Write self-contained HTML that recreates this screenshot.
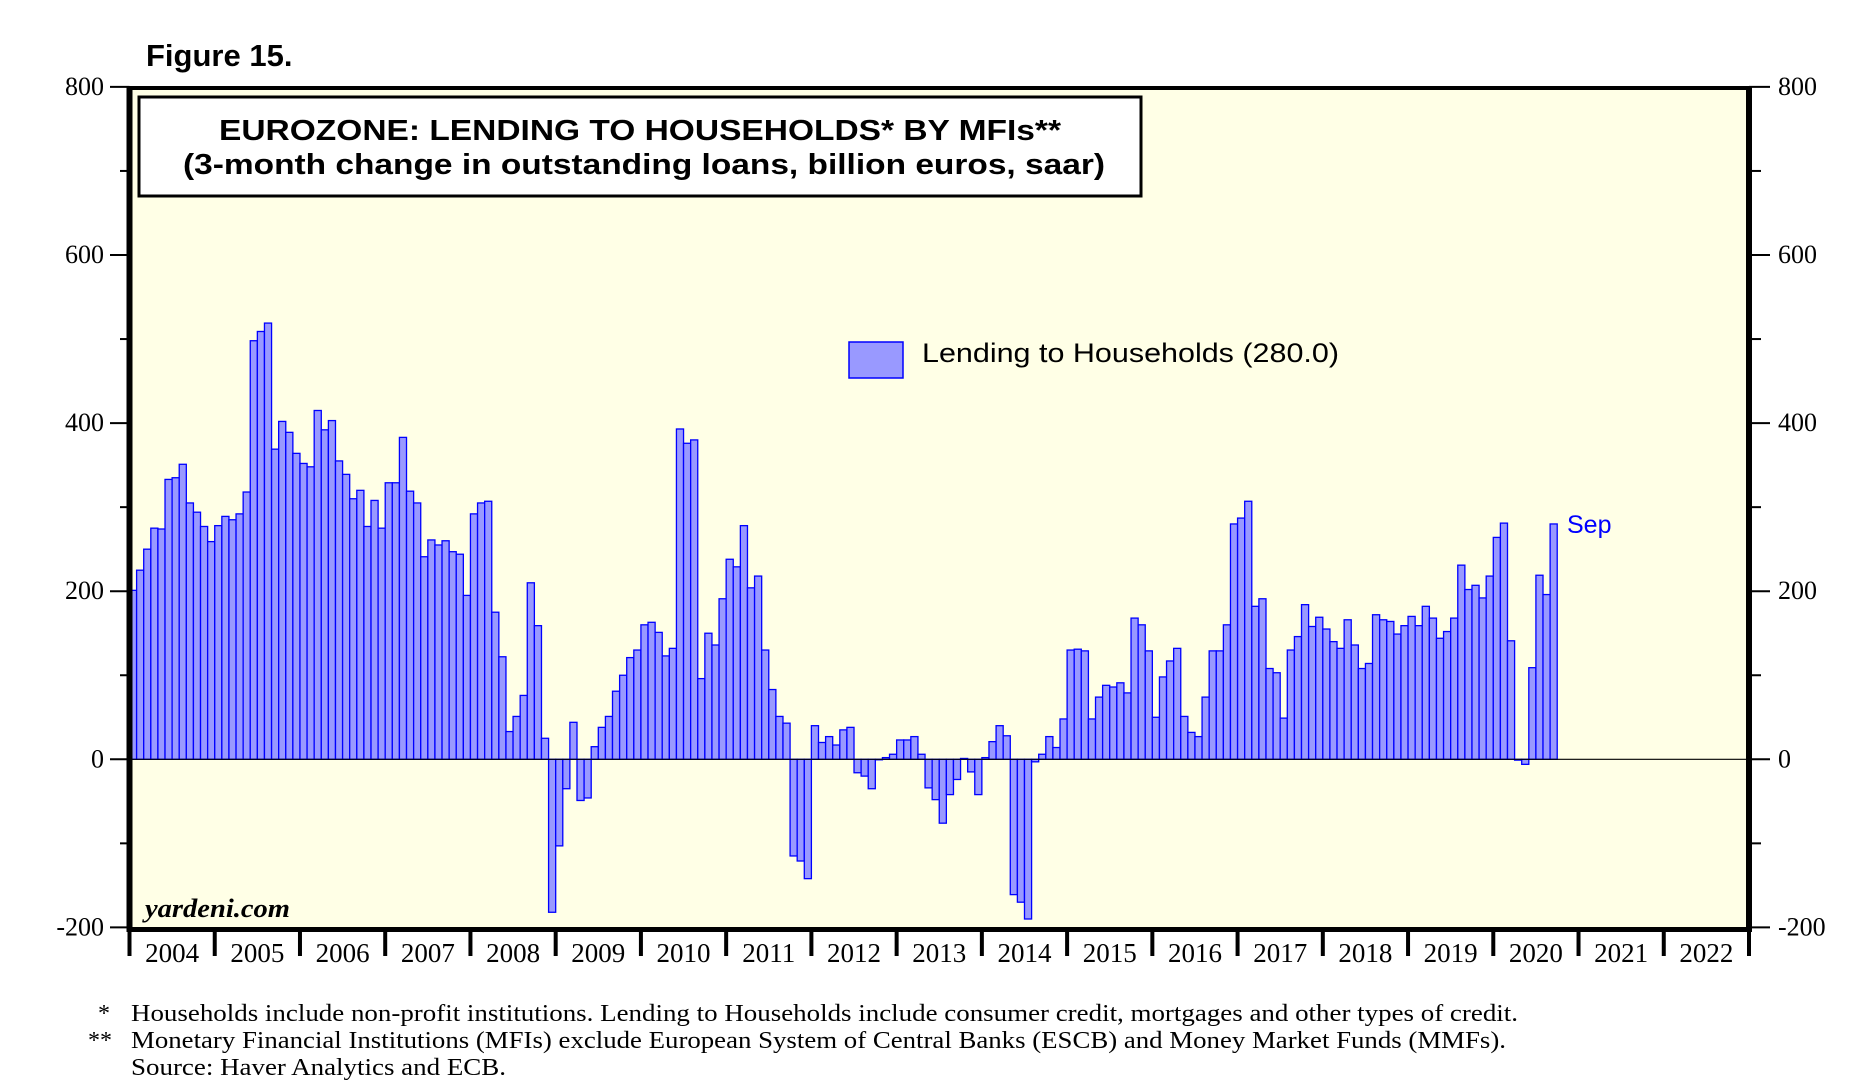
<!DOCTYPE html>
<html><head><meta charset="utf-8"><style>
html,body{margin:0;padding:0;background:#fff;}
svg{display:block;}
</style></head><body>
<svg id="chart" width="1861" height="1088" viewBox="0 0 1861 1088" xmlns="http://www.w3.org/2000/svg">
<text x="146" y="66" font-family="Liberation Sans, sans-serif" font-weight="bold" font-size="31">Figure 15.</text>
<rect x="129.5" y="88" width="1619.5" height="842" fill="#FFFFE6"/>
<g id="bars"></g>
<g id="axes"></g>
<rect x="139" y="97" width="1002" height="99" fill="#fff" stroke="#000" stroke-width="3"/>
<text x="640" y="140" text-anchor="middle" font-family="Liberation Sans Narrow, Liberation Sans, sans-serif" font-weight="bold" font-size="29" textLength="842" lengthAdjust="spacingAndGlyphs">EUROZONE: LENDING TO HOUSEHOLDS* BY MFIs**</text>
<text x="644" y="174" text-anchor="middle" font-family="Liberation Sans Narrow, Liberation Sans, sans-serif" font-weight="bold" font-size="29" textLength="922" lengthAdjust="spacingAndGlyphs">(3-month change in outstanding loans, billion euros, saar)</text>
<rect x="849" y="342" width="54" height="36" fill="#9999FF" stroke="#0000FF" stroke-width="1.5"/>
<text x="922" y="362" font-family="Liberation Sans, sans-serif" font-size="27" textLength="417" lengthAdjust="spacingAndGlyphs">Lending to Households (280.0)</text>
<text x="1567" y="533" fill="#0000FF" font-family="Liberation Sans, sans-serif" font-size="25">Sep</text>
<text x="145" y="917" font-family="Liberation Serif, serif" font-style="italic" font-weight="bold" font-size="26" textLength="145" lengthAdjust="spacingAndGlyphs">yardeni.com</text>
<g font-family="Liberation Serif, serif" font-size="24">
<text x="110" y="1021" text-anchor="end">*</text>
<text x="131" y="1021" textLength="1387" lengthAdjust="spacingAndGlyphs">Households include non-profit institutions.  Lending to Households include consumer credit, mortgages and other types of credit.</text>
<text x="112" y="1048" text-anchor="end">**</text>
<text x="131" y="1048" textLength="1375" lengthAdjust="spacingAndGlyphs">Monetary Financial Institutions (MFIs) exclude European System of Central Banks (ESCB) and Money Market Funds (MMFs).</text>
<text x="131" y="1075" textLength="375" lengthAdjust="spacingAndGlyphs">Source: Haver Analytics and ECB.</text>
</g>
</svg>
<script>
// Monthly values, Jan 2004 .. Sep 2020 (billion euros, saar)
const values2004_2007 = [201,225,250,275,274,333,335,351,305,294,277,259, 278,289,285,292,318,498,509,519,369,402,389,364, 352,348,415,392,403,355,339,310,320,277,308,275, 329,329,383,319,305,241,261,255,260,247,244,195];
const values2008_2011 = [292,305,307,175,122,33,51,76,210,159,25,-182, -103,-35,44,-49,-46,15,38,51,81,100,121,130, 160,163,151,123,132,393,376,380,96,150,136,191, 238,229,278,204,218,130,83,51,43,-115,-121,-142];
const values2012_2015 = [40,20,27,17,35,38,-16,-20,-35,0,2,6, 23,23,27,6,-34,-48,-76,-42,-24,1,-15,-42, 2,21,40,28,-161,-170,-190,-3,6,27,14,48, 130,131,129,48,74,88,86,91,79,168,160,129];
const values2016_2020 = [50,98,117,132,51,32,27,74,129,129,160,280, 287,307,182,191,108,103,49,130,146,184,158,169, 155,140,132,166,136,108,114,172,166,164,149,159, 170,159,182,168,144,152,168,231,202,207,192,218, 264,281,141,-1,-6,109,219,196,280];
const series = values2004_2007.concat(values2008_2011, values2012_2015, values2016_2020);
const yTicks = [-200,0,200,400,600,800];
const yMinorTicks = [-100,100,300,500,700];
const yearLabels = ["2004","2005","2006","2007","2008","2009","2010","2011","2012","2013","2014","2015","2016","2017","2018","2019","2020","2021","2022"];

const NS = "http://www.w3.org/2000/svg";
const X0 = 129.5, X1 = 1749, Y0 = 759.3, PPU = 0.8405;
const totalMonths = yearLabels.length * 12;
function xScale(m){ return X0 + (X1 - X0) * m / totalMonths; }
function yScale(v){ return Y0 - v * PPU; }
function mk(tag, attrs, parent){ const e = document.createElementNS(NS, tag); for (const k in attrs) e.setAttribute(k, attrs[k]); parent.appendChild(e); return e; }

const bars = document.getElementById('bars');
series.forEach(function(v, i){
  const xa = xScale(i), xb = xScale(i + 1);
  const ya = yScale(Math.max(v, 0)), yb = yScale(Math.min(v, 0));
  const r = mk('rect', {x: xa, y: ya, width: xb - xa, height: Math.max(yb - ya, 0.5), fill: '#9999FF', stroke: '#0000FF', 'stroke-width': 1.3}, bars);
  
  
});

const axes = document.getElementById('axes');
const zl = mk('line', {x1: X0, x2: X1, y1: yScale(0), y2: yScale(0), stroke: '#000', 'stroke-width': 1.2}, axes);


const fr = mk('rect', {x: X0, y: 88, width: X1 - X0, height: 842, fill: 'none', stroke: '#000', 'stroke-width': 4}, axes);


const la = mk('line', {x1: X0, x2: X0, y1: 86, y2: 932, stroke: '#000', 'stroke-width': 6}, axes);


const ra = mk('line', {x1: X1, x2: X1, y1: 86, y2: 932, stroke: '#000', 'stroke-width': 6}, axes);


const ba = mk('line', {x1: X0 - 3, x2: X1 + 3, y1: 929.5, y2: 929.5, stroke: '#000', 'stroke-width': 5}, axes);



yTicks.forEach(function(t){
  const y = yScale(t);
  const tl = mk('line', {x1: 110, x2: X0, y1: y, y2: y, stroke: '#000', 'stroke-width': 2}, axes);
  
  
  const tr = mk('line', {x1: X1, x2: 1770, y1: y, y2: y, stroke: '#000', 'stroke-width': 2}, axes);
  
  
  const lt = mk('text', {x: 104, y: y + 8, 'text-anchor': 'end', 'font-family': 'Liberation Serif, serif', 'font-size': 26}, axes);
  lt.textContent = String(t);
  
  
  const rt = mk('text', {x: 1778, y: y + 8, 'font-family': 'Liberation Serif, serif', 'font-size': 26}, axes);
  rt.textContent = String(t);
  
  
});
yMinorTicks.forEach(function(t){
  const y = yScale(t);
  const a = mk('line', {x1: 120, x2: X0, y1: y, y2: y, stroke: '#000', 'stroke-width': 2}, axes);
  
  
  const b = mk('line', {x1: X1, x2: 1761, y1: y, y2: y, stroke: '#000', 'stroke-width': 2}, axes);
  
  
});
yearLabels.forEach(function(lbl, k){
  const xa = xScale(k * 12), xb = xScale((k + 1) * 12);
  const tk = mk('line', {x1: xa, x2: xa, y1: 930, y2: 956, stroke: '#000', 'stroke-width': 4}, axes);
  
  
  const tx = mk('text', {x: (xa + xb) / 2, y: 962, 'text-anchor': 'middle', 'font-family': 'Liberation Serif, serif', 'font-size': 27}, axes);
  tx.textContent = lbl;
  
  
});
const lastTk = mk('line', {x1: X1, x2: X1, y1: 930, y2: 956, stroke: '#000', 'stroke-width': 4}, axes);


</script>
</body></html>
